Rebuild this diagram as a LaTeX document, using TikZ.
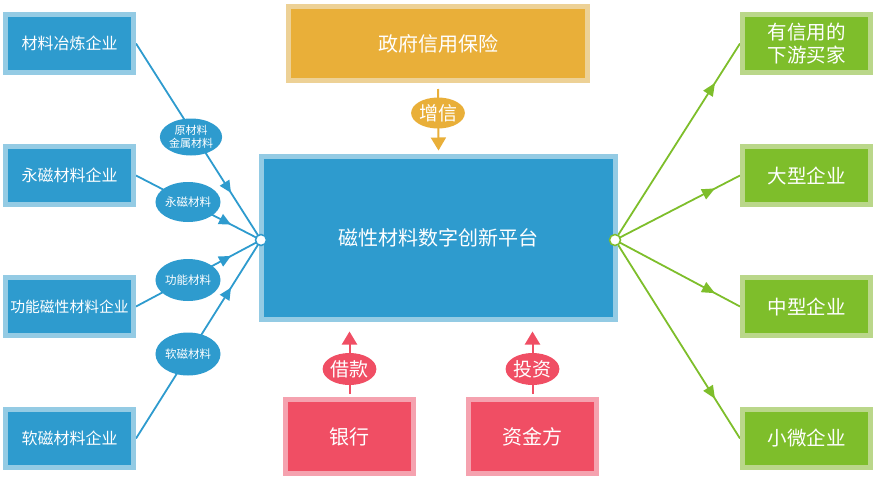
\documentclass[tikz,border=0pt]{standalone}
\usepackage{fontspec}
\setmainfont{Noto Sans CJK SC}
\usetikzlibrary{arrows.meta,decorations.markings,calc,shapes.geometric}
\pgfdeclarelayer{bg}
\pgfsetlayers{bg,main}
\definecolor{cblue}{HTML}{2E9BCE}
\definecolor{cblueL}{HTML}{94CBE4}
\definecolor{corange}{HTML}{E9AF39}
\definecolor{corangeL}{HTML}{EDD196}
\definecolor{cred}{HTML}{F04E64}
\definecolor{credL}{HTML}{F5A2AF}
\definecolor{cgreen}{HTML}{7EBE2B}
\definecolor{cgreenL}{HTML}{BAD78A}
\begin{document}
\begin{tikzpicture}[x=1pt,y=-1pt,
  box/.style={draw, line width=5pt, inner sep=0pt, align=center, text=white},
  sidebox/.style={box, minimum width=128pt, minimum height=58pt},
  bluebox/.style={sidebox, fill=cblue, draw=cblueL, font=\fontsize{16}{19}\selectfont},
  greenbox/.style={sidebox, fill=cgreen, draw=cgreenL, font=\fontsize{19.5}{23}\selectfont},
  redbox/.style={box, fill=cred, draw=credL, minimum width=128pt, minimum height=74pt, font=\fontsize{20}{23}\selectfont},
  ell/.style={ellipse, inner sep=0pt, text=white, align=center},
  blueell/.style={ell, fill=cblue, minimum width=56pt, minimum height=40pt, font=\fontsize{11.5}{13}\selectfont},
  bigell/.style={ell, minimum width=44pt, minimum height=32pt, font=\fontsize{19}{20}\selectfont},
  dot/.style={circle, fill=white, line width=1.5pt, minimum size=11pt, inner sep=0pt},
  bline/.style={draw=cblue, line width=1.8pt,
    decoration={markings, mark=at position 0.76 with {\arrow{Triangle[length=12pt,width=11pt]}}},
    postaction={decorate}},
  gline/.style={draw=cgreen, line width=1.8pt,
    decoration={markings, mark=at position 0.8 with {\arrow{Triangle[length=13pt,width=11pt]}}},
    postaction={decorate}},
  vline/.style={line width=2pt, -{Triangle[length=13pt,width=15pt]}}
]
\useasboundingbox (0,0) rectangle (877,482);

% central platform
\node[box, fill=cblue, draw=cblueL, minimum width=354pt, minimum height=163pt,
      font=\fontsize{20}{23}\selectfont] (center) at (438.5,238) {磁性材料数字创新平台};

% top
\node[box, fill=corange, draw=corangeL, minimum width=299pt, minimum height=74pt,
      font=\fontsize{20}{23}\selectfont] (top) at (438,43.5) {政府信用保险};

% bottom
\node[redbox] (bank) at (349.5,436.5) {银行};
\node[redbox] (fund) at (532.5,436.5) {资金方};

% left boxes
\node[bluebox] (L1) at (69.5,43.5) {材料冶炼企业};
\node[bluebox] (L2) at (69.5,175.5) {永磁材料企业};
\node[bluebox, font=\fontsize{14.8}{18}\selectfont] (L3) at (69.5,306.5) {功能磁性材料企业};
\node[bluebox] (L4) at (69.5,438.5) {软磁材料企业};

% right boxes
\node[greenbox] (R1) at (806.5,43.5) {有信用的\\下游买家};
\node[greenbox] (R2) at (806.5,175.5) {大型企业};
\node[greenbox] (R3) at (806.5,306.5) {中型企业};
\node[greenbox] (R4) at (806.5,438.5) {小微企业};

% connection dots
\node[dot, draw=cblue] (lc) at (261,240) {};
\node[dot, draw=cgreen] (rc) at (615,240) {};

\begin{pgfonlayer}{bg}
  \draw[bline] (L1.east) -- (lc.center);
  \draw[bline] (L2.east) -- (lc.center);
  \draw[bline] (L3.east) -- (lc.center);
  \draw[bline] (L4.east) -- (lc.center);
  \draw[gline] (rc.center) -- (R1.west);
  \draw[gline] (rc.center) -- (R2.west);
  \draw[gline] (rc.center) -- (R3.west);
  \draw[gline] (rc.center) -- (R4.west);
  \draw[vline, corange] ([yshift=-6pt]top.south) -- ([yshift=3.5pt]center.north);
  \draw[vline, cred] ([yshift=3pt]bank.north) -- ([yshift=-9.5pt]center.south -| bank.north);
  \draw[vline, cred] ([yshift=3pt]fund.north) -- ([yshift=-9.5pt]center.south -| fund.north);
\end{pgfonlayer}

% material labels
\node[blueell, minimum height=37pt, font=\fontsize{11}{13}\selectfont] (e1) at (191,137) {原材料\\金属材料};
\node[blueell] (e2) at (188,202) {永磁材料};
\node[blueell, minimum height=42pt] (e3) at (188,280) {功能材料};
\node[blueell, minimum height=43pt] (e4) at (188,354) {软磁材料};

% flow labels
\node[bigell, fill=corange, minimum width=43pt, minimum height=31pt] (zx) at (438,113) {增信};
\node[bigell, fill=cred] (jk) at (349.5,369) {借款};
\node[bigell, fill=cred] (tz) at (532.5,369) {投资};
\end{tikzpicture}
\end{document}
